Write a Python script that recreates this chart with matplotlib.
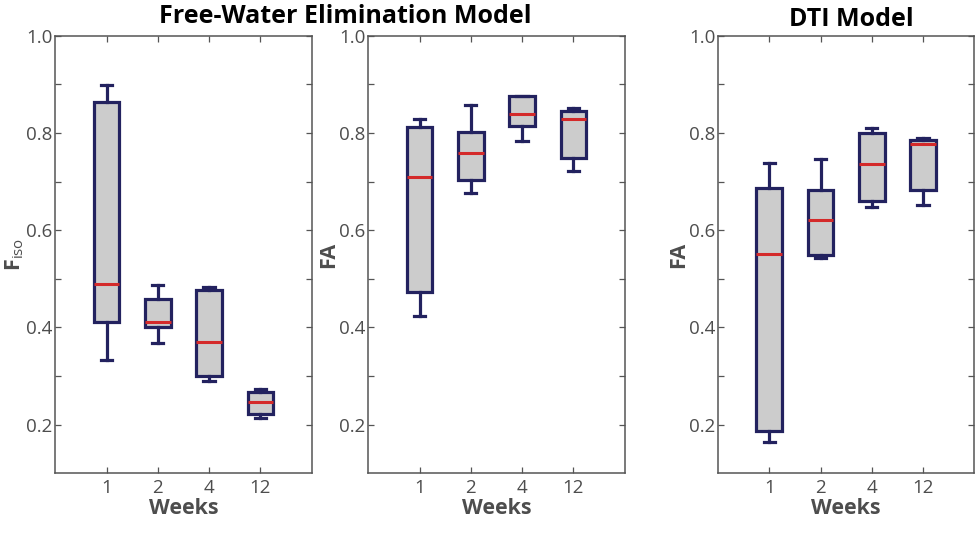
import matplotlib
matplotlib.use('Agg')
import matplotlib.pyplot as plt
import numpy as np

plt.rcParams['font.family'] = ['Open Sans', 'DejaVu Sans']
plt.rcParams['mathtext.fontset'] = 'custom'
plt.rcParams['mathtext.rm'] = 'Open Sans'
plt.rcParams['mathtext.bf'] = 'Open Sans:bold'

weeks = ['1', '2', '4', '12']

# Free-water model, Fiso
fiso_low = [0.332, 0.368, 0.290, 0.214]
fiso_q1 = [0.412, 0.400, 0.301, 0.222]
fiso_med = [0.490, 0.411, 0.370, 0.246]
fiso_q3 = [0.864, 0.459, 0.477, 0.268]
fiso_high = [0.899, 0.488, 0.483, 0.274]

# Free-water model, FA
fwfa_low = [0.423, 0.677, 0.784, 0.722]
fwfa_q1 = [0.472, 0.704, 0.815, 0.749]
fwfa_med = [0.709, 0.758, 0.839, 0.829]
fwfa_q3 = [0.813, 0.802, 0.875, 0.845]
fwfa_high = [0.829, 0.858, 0.875, 0.851]

# DTI model, FA
dti_low = [0.165, 0.542, 0.648, 0.652]
dti_q1 = [0.186, 0.548, 0.660, 0.683]
dti_med = [0.550, 0.621, 0.736, 0.778]
dti_q3 = [0.687, 0.683, 0.799, 0.786]
dti_high = [0.739, 0.747, 0.810, 0.789]

navy = '#23225f'
grey_txt = '#4d4d4d'


def make_stats(low, q1, med, q3, high):
    stats = []
    for i in range(len(weeks)):
        stats.append({'whislo': low[i], 'q1': q1[i], 'med': med[i],
                      'q3': q3[i], 'whishi': high[i], 'fliers': [],
                      'label': weeks[i]})
    return stats


def draw_panel(ax, stats, ylabel):
    ax.bxp(stats, positions=np.arange(1, 5), widths=0.5, capwidths=0.22,
           patch_artist=True, showfliers=False,
           boxprops=dict(facecolor='#cccccc', edgecolor=navy, linewidth=2.3),
           whiskerprops=dict(color=navy, linewidth=2.3),
           capprops=dict(color=navy, linewidth=2.3),
           medianprops=dict(color='#d42a2a', linewidth=2.2))
    ax.set_xlim(0, 5)
    ax.set_ylim(0.1, 1.0)
    ax.set_xticks(np.arange(1, 5))
    ax.set_xticklabels(weeks)
    ax.set_yticks([0.2, 0.4, 0.6, 0.8, 1.0])
    ax.set_yticklabels(['0.2', '0.4', '0.6', '0.8', '1.0'])
    ax.set_yticks([0.3, 0.5, 0.7, 0.9], minor=True)
    ax.tick_params(which='both', direction='in', length=4, width=0.9,
                   color='#555555', top=True, right=True,
                   labelsize=13.5, labelcolor=grey_txt, pad=2)
    ax.tick_params(axis='x', pad=4)
    for s in ax.spines.values():
        s.set_color('#555555')
        s.set_linewidth(1.1)
    ax.set_xlabel('Weeks', fontsize=15.5, fontweight='bold', color=grey_txt,
                  labelpad=1)
    ax.set_ylabel(ylabel, fontsize=15.5, fontweight='bold', color=grey_txt,
                  labelpad=0)


fig = plt.figure(figsize=(9.75, 5.37), dpi=100)
w = 0.263
b = 0.1186
h = 0.815
ax1 = fig.add_axes([0.0567, b, w, h])
ax2 = fig.add_axes([0.3777, b, w, h])
ax3 = fig.add_axes([0.7364, b, w, h])

draw_panel(ax1, make_stats(fiso_low, fiso_q1, fiso_med, fiso_q3, fiso_high),
           r'$\mathbf{F}_{\mathrm{iso}}$')
draw_panel(ax2, make_stats(fwfa_low, fwfa_q1, fwfa_med, fwfa_q3, fwfa_high), 'FA')
draw_panel(ax3, make_stats(dti_low, dti_q1, dti_med, dti_q3, dti_high), 'FA')

fig.text(0.354, 0.970, 'Free-Water Elimination Model', ha='center', va='center',
         fontsize=18, fontweight='bold', color='black')
fig.text(0.873, 0.964, 'DTI Model', ha='center', va='center',
         fontsize=18, fontweight='bold', color='black')

fig.savefig('out.png', dpi=100)
